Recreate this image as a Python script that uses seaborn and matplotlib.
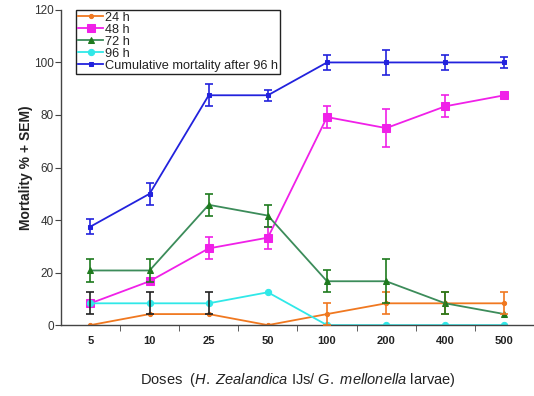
import matplotlib
matplotlib.use('Agg')
import matplotlib.pyplot as plt
import seaborn as sns
import numpy as np
import pandas as pd

doses = ['5', '10', '25', '50', '100', '200', '400', '500']

h24 = [0, 4.2, 4.2, 0, 4.2, 8.3, 8.3, 8.3]
h24_sem = [0, 0, 0, 0, 4.2, 4.2, 4.2, 4.2]

h48 = [8.3, 16.7, 29.2, 33.3, 79.2, 75.0, 83.3, 87.5]
h48_sem = [0, 0, 4.2, 4.2, 4.2, 7.3, 4.2, 0]

h72 = [20.8, 20.8, 45.8, 41.7, 16.7, 16.7, 8.3, 4.2]
h72_sem = [4.2, 4.2, 4.2, 4.2, 4.2, 8.3, 4.2, 0]

h96 = [8.3, 8.3, 8.3, 12.5, 0, 0, 0, 0]
h96_sem = [4.2, 4.2, 4.2, 0, 0, 0, 0, 0]

cumulative = [37.5, 50.0, 87.5, 87.5, 100, 100, 100, 100]
cumulative_sem = [3.0, 4.2, 4.2, 2.0, 3.0, 4.8, 3.0, 2.2]

# name, values, sem, line colour, marker, marker size, marker colour, error bar colour
series = [
    ('24 h', h24, h24_sem, '#F07820', 'o', 3, '#F07820', '#F07820'),
    ('48 h', h48, h48_sem, '#F020E8', 's', 5.5, '#F020E8', '#F020E8'),
    ('72 h', h72, h72_sem, '#3C8C5A', '^', 5, '#1E7A1E', '#1E7A1E'),
    ('96 h', h96, h96_sem, '#30E8E8', 'o', 4.5, '#30E8E8', '#222222'),
    ('Cumulative mortality after 96 h', cumulative, cumulative_sem, '#2222DD', 's', 3.5, '#2222DD', '#2222DD'),
]

plt.rcParams['font.family'] = ['Liberation Sans', 'DejaVu Sans']
plt.rcParams['mathtext.fontset'] = 'custom'
plt.rcParams['mathtext.rm'] = 'Liberation Sans'
plt.rcParams['mathtext.it'] = 'Liberation Sans:italic'

fig = plt.figure(figsize=(5.34, 3.96), dpi=100)
ax = fig.add_axes([0.114, 0.179, 0.886, 0.796])

for name, vals, sem, color, marker, ms, mcolor, ecolor in series:
    df = pd.DataFrame({'dose': doses, 'value': vals})
    sns.lineplot(data=df, x='dose', y='value', ax=ax, color=color, marker=marker,
                 markersize=ms, markerfacecolor=mcolor, markeredgecolor=mcolor,
                 linewidth=1.3, label=name, sort=False)
    sem = np.array(sem)
    mask = sem > 0
    ax.errorbar(np.array(doses)[mask], np.array(vals)[mask], yerr=sem[mask], fmt='none',
                ecolor=ecolor, elinewidth=1.2, capsize=3, capthick=1.2, zorder=3)

ax.set_xlim(-0.5, len(doses) - 0.5)
ax.set_ylim(0, 120)
ax.set_yticks(range(0, 121, 20))
ax.set_xticks(np.arange(len(doses)))
ax.set_xticklabels(doses)
ax.set_xticks(np.arange(len(doses) - 1) + 0.5, minor=True)
ax.tick_params(axis='x', which='major', length=0, pad=8, labelsize=8)
ax.tick_params(axis='x', which='minor', length=4, color='#444444', direction='out')
ax.tick_params(axis='y', length=4, labelsize=8.5, color='#444444', pad=1)
for lab in ax.get_xticklabels():
    lab.set_color('#222222')
    lab.set_fontweight('bold')
for lab in ax.get_yticklabels():
    lab.set_color('#333333')

for s in ['top', 'right']:
    ax.spines[s].set_visible(False)
for s in ['left', 'bottom']:
    ax.spines[s].set_color('#444444')
    ax.spines[s].set_linewidth(1)

ax.set_xlabel(r'Doses  ($\it{H.\ Zealandica}$ IJs/ $\it{G.\ mellonella}$ larvae)',
              fontsize=10.5, labelpad=18, color='#222222')
ax.set_ylabel('Mortality % + SEM)', fontsize=10, fontweight='bold', color='#222222', labelpad=1)

leg = ax.legend(loc='upper left', bbox_to_anchor=(0.032, 1.0), borderaxespad=0,
                fontsize=9.2, handlelength=2.0, handletextpad=0.15, labelspacing=0.0,
                borderpad=0.15, frameon=True, fancybox=False, framealpha=1)
leg.get_frame().set_edgecolor('#222222')
leg.get_frame().set_linewidth(1)
for t in leg.get_texts():
    t.set_color('#222222')

fig.savefig('out.png', dpi=100)
